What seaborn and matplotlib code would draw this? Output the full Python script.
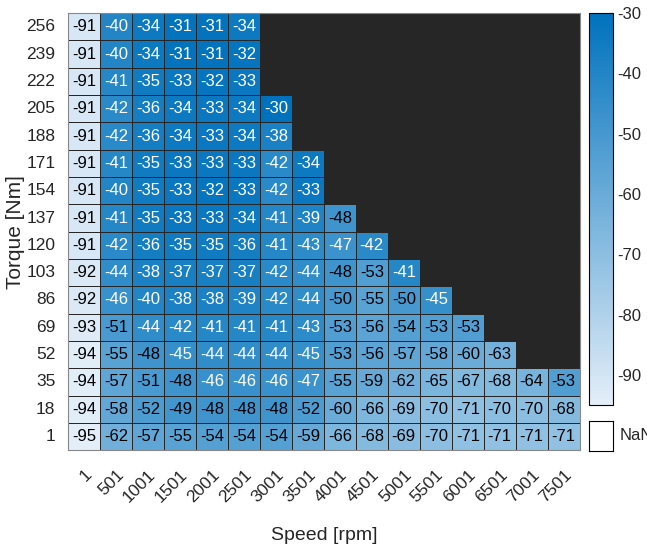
import numpy as np
import pandas as pd
import matplotlib
matplotlib.use("Agg")
import matplotlib.pyplot as plt
import seaborn as sns
from matplotlib.colors import LinearSegmentedColormap

sns.set_style("white")
plt.rcParams['font.family'] = ['Liberation Sans', 'DejaVu Sans']
plt.rcParams['axes.unicode_minus'] = False

speed = [1, 501, 1001, 1501, 2001, 2501, 3001, 3501, 4001, 4501, 5001, 5501, 6001, 6501, 7001, 7501]
torque = [256, 239, 222, 205, 188, 171, 154, 137, 120, 103, 86, 69, 52, 35, 18, 1]

n = np.nan
row_256 = [-91, -40, -34, -31, -31, -34, n, n, n, n, n, n, n, n, n, n]
row_239 = [-91, -40, -34, -31, -31, -32, n, n, n, n, n, n, n, n, n, n]
row_222 = [-91, -41, -35, -33, -32, -33, n, n, n, n, n, n, n, n, n, n]
row_205 = [-91, -42, -36, -34, -33, -34, -30, n, n, n, n, n, n, n, n, n]
row_188 = [-91, -42, -36, -34, -33, -34, -38, n, n, n, n, n, n, n, n, n]
row_171 = [-91, -41, -35, -33, -33, -33, -42, -34, n, n, n, n, n, n, n, n]
row_154 = [-91, -40, -35, -33, -32, -33, -42, -33, n, n, n, n, n, n, n, n]
row_137 = [-91, -41, -35, -33, -33, -34, -41, -39, -48, n, n, n, n, n, n, n]
row_120 = [-91, -42, -36, -35, -35, -36, -41, -43, -47, -42, n, n, n, n, n, n]
row_103 = [-92, -44, -38, -37, -37, -37, -42, -44, -48, -53, -41, n, n, n, n, n]
row_86 = [-92, -46, -40, -38, -38, -39, -42, -44, -50, -55, -50, -45, n, n, n, n]
row_69 = [-93, -51, -44, -42, -41, -41, -41, -43, -53, -56, -54, -53, -53, n, n, n]
row_52 = [-94, -55, -48, -45, -44, -44, -44, -45, -53, -56, -57, -58, -60, -63, n, n]
row_35 = [-94, -57, -51, -48, -46, -46, -46, -47, -55, -59, -62, -65, -67, -68, -64, -53]
row_18 = [-94, -58, -52, -49, -48, -48, -48, -52, -60, -66, -69, -70, -71, -70, -70, -68]
row_1 = [-95, -62, -57, -55, -54, -54, -54, -59, -66, -68, -69, -70, -71, -71, -71, -71]

rows = [row_256, row_239, row_222, row_205, row_188, row_171, row_154, row_137,
        row_120, row_103, row_86, row_69, row_52, row_35, row_18, row_1]
df = pd.DataFrame(rows, index=torque, columns=speed)

cmap = LinearSegmentedColormap.from_list("matlab_blue", ["#E4EEF8", "#0072BD"])

fig = plt.figure(figsize=(6.47, 5.49), dpi=100)
ax = fig.add_axes([0.105, 0.180, 0.791, 0.796])
cax = fig.add_axes([0.911, 0.262, 0.036, 0.714])
nan_ax = fig.add_axes([0.911, 0.178, 0.036, 0.056])

sns.heatmap(df, ax=ax, cbar_ax=cax, cmap=cmap, vmin=-95, vmax=-30,
            annot=True, fmt=".0f", annot_kws={"fontsize": 12},
            linewidths=0.6, linecolor="#262626")
ax.set_facecolor("#262626")

# text color: white on darker cells
for t in ax.texts:
    v = float(t.get_text())
    t.set_color("white" if v >= -47 else "black")

for s in ax.spines.values():
    s.set_visible(True)
    s.set_color("#888888")
    s.set_linewidth(0.8)

ax.set_xticklabels(speed, rotation=45, ha="right", rotation_mode="anchor", fontsize=12.5, color="#262626")
ax.set_yticklabels(torque, rotation=0, fontsize=12.5, color="#262626")
ax.tick_params(axis="x", length=0, pad=12)
ax.tick_params(axis="y", length=0, pad=9)
ax.set_xlabel("Speed [rpm]", fontsize=14, color="#262626", labelpad=16)
ax.set_ylabel("Torque [Nm]", fontsize=15, color="#262626", labelpad=1)

cbar = ax.collections[0].colorbar
cbar.set_ticks([-90, -80, -70, -60, -50, -40, -30])
cbar.ax.tick_params(labelsize=12, direction="in", length=3, colors="#262626")
cbar.outline.set_edgecolor("black")
cbar.outline.set_linewidth(0.8)

nan_ax.set_facecolor("white")
nan_ax.set_xticks([])
nan_ax.set_yticks([])
for s in nan_ax.spines.values():
    s.set_visible(True)
    s.set_color("black")
    s.set_linewidth(0.8)
nan_ax.text(1.3, 0.5, "NaN", transform=nan_ax.transAxes, va="center", ha="left",
            fontsize=12, color="#262626")

fig.savefig("out.png", dpi=100)
